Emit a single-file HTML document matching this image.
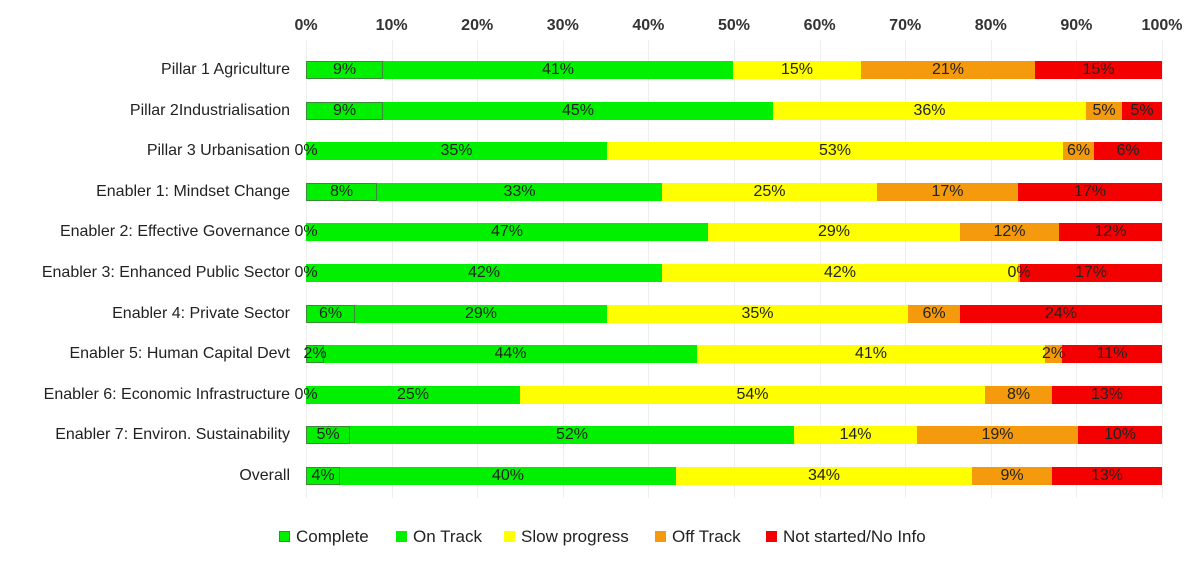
<!DOCTYPE html><html><head><style>
body{margin:0;width:1200px;height:564px;background:#fff;font-family:"Liberation Sans",sans-serif;position:relative;overflow:hidden}
.t{position:absolute;top:17px;font-size:16px;font-weight:bold;color:#333;transform:translateX(-50%)}
.g{position:absolute;top:40px;width:1px;height:458px;background:#eee}
.lab{position:absolute;right:910px;font-size:16px;color:#222;white-space:nowrap;line-height:18px}
.s{position:absolute;height:18px;font-size:16px;line-height:18px;text-align:center;color:#222;white-space:nowrap}
.G{background:#00f000}.C{background:#00f000;box-shadow:inset 0 0 0 1px #3a8a3a}.Y{background:#ffff00}.O{background:#f59a0c}.R{background:#f40000}
.lg{position:absolute;top:527px;font-size:17px;color:#222}
.lg i{display:inline-block;width:11px;height:11px;margin-right:6px;vertical-align:0px}
.sm{position:absolute;left:50%;transform:translateX(-50%);z-index:5}
</style></head><body>
<div id="c"></div>
<script>
var c=document.getElementById('c'),h='';
for(var i=0;i<=10;i++){var x=306+i*85.6;h+='<div class="g" style="left:'+x+'px"></div><div class="t" style="left:'+x+'px">'+(i*10)+'%</div>';}
var rows=[
["Pillar 1 Agriculture",[[383,'9%','C'],[733,'41%','G'],[861,'15%','Y'],[1035,'21%','O'],[1162,'15%','R']]],
["Pillar 2Industrialisation",[[383,'9%','C'],[773,'45%','G'],[1086,'36%','Y'],[1122,'5%','O'],[1162,'5%','R']]],
["Pillar 3 Urbanisation",[[306,'0%','C'],[607,'35%','G'],[1063,'53%','Y'],[1094,'6%','O'],[1162,'6%','R']]],
["Enabler 1: Mindset Change",[[377,'8%','C'],[662,'33%','G'],[877,'25%','Y'],[1018,'17%','O'],[1162,'17%','R']]],
["Enabler 2: Effective Governance",[[306,'0%','C'],[708,'47%','G'],[960,'29%','Y'],[1059,'12%','O'],[1162,'12%','R']]],
["Enabler 3: Enhanced Public Sector",[[306,'0%','C'],[662,'42%','G'],[1018,'42%','Y'],[1020,'0%','O'],[1162,'17%','R']]],
["Enabler 4: Private Sector",[[355,'6%','C'],[607,'29%','G'],[908,'35%','Y'],[960,'6%','O'],[1162,'24%','R']]],
["Enabler 5: Human Capital Devt",[[324,'2%','C'],[697,'44%','G'],[1045,'41%','Y'],[1062,'2%','O'],[1162,'11%','R']]],
["Enabler 6: Economic Infrastructure",[[306,'0%','C'],[520,'25%','G'],[985,'54%','Y'],[1052,'8%','O'],[1162,'13%','R']]],
["Enabler 7: Environ. Sustainability",[[350,'5%','C'],[794,'52%','G'],[917,'14%','Y'],[1078,'19%','O'],[1162,'10%','R']]],
["Overall",[[340,'4%','C'],[676,'40%','G'],[972,'34%','Y'],[1052,'9%','O'],[1162,'13%','R']]]];
rows.forEach(function(r,k){var y=61+k*40.6;h+='<div class="lab" style="top:'+y+'px">'+r[0]+'</div>';var x0=306;
r[1].forEach(function(s){var w=s[0]-x0;h+='<div class="s '+s[2]+'" style="left:'+x0+'px;top:'+y+'px;width:'+Math.max(w,0)+'px">'+(w<30?'<span class="sm">'+s[1]+'</span>':s[1])+'</div>';x0=s[0];});});
c.innerHTML=h;
</script>
<div class="lg" style="left:279px"><i class="C"></i>Complete</div>
<div class="lg" style="left:396px"><i class="G"></i>On Track</div>
<div class="lg" style="left:504px"><i class="Y"></i>Slow progress</div>
<div class="lg" style="left:655px"><i class="O"></i>Off Track</div>
<div class="lg" style="left:766px"><i class="R"></i>Not started/No Info</div>
</body></html>
